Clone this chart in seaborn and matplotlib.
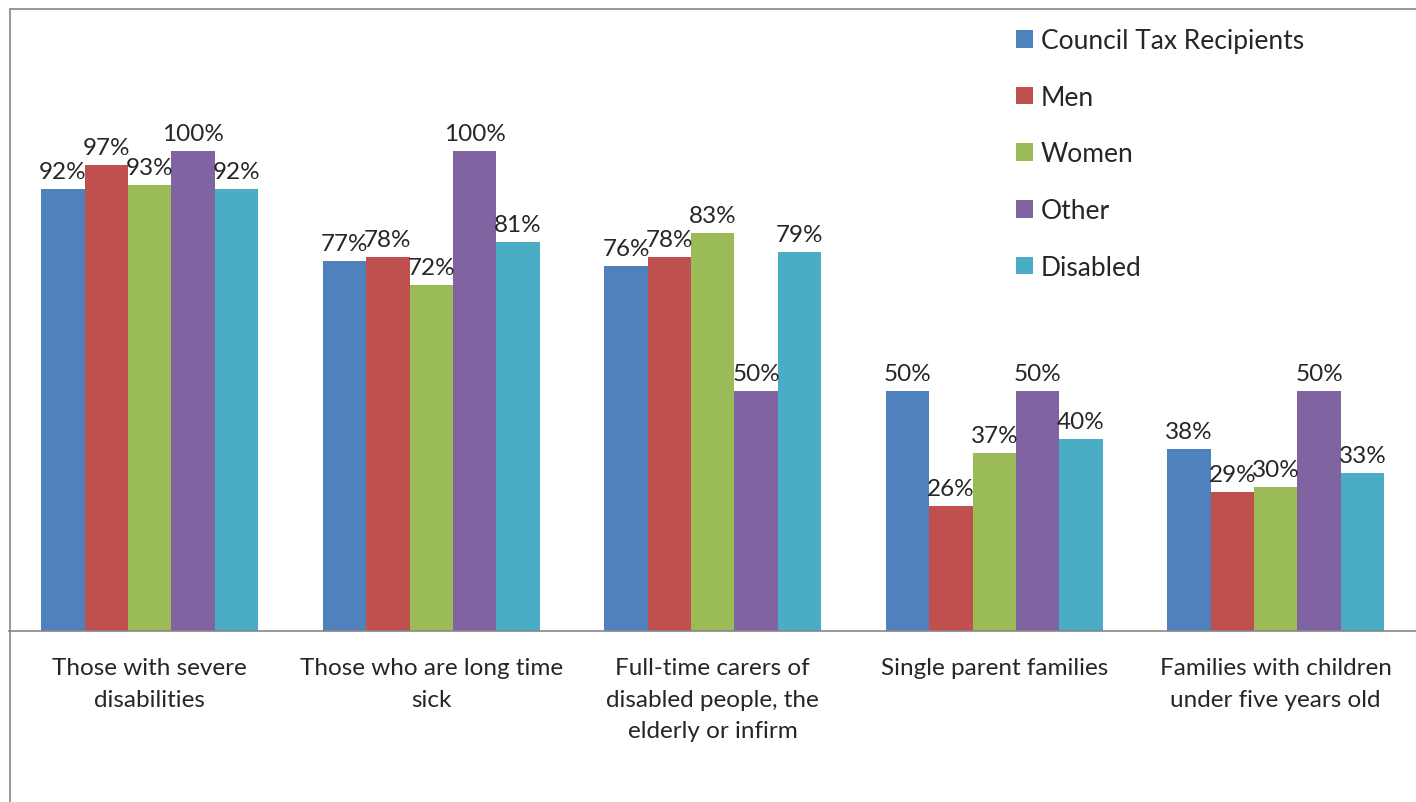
import pandas as pd
import matplotlib.pyplot as plt
import seaborn as sns
from matplotlib.lines import Line2D
from matplotlib.patches import Patch

# Chart data (percent)
categories = [
    "Those with severe\ndisabilities",
    "Those who are long time\nsick",
    "Full-time carers of\ndisabled people, the\nelderly or infirm",
    "Single parent families",
    "Families with children\nunder five years old",
]
groups = ["Council Tax Recipients", "Men", "Women", "Other", "Disabled"]
council_tax = [92, 77, 76, 50, 38]
men = [97, 78, 78, 26, 29]
women = [93, 72, 83, 37, 30]
other = [100, 100, 50, 50, 50]
disabled = [92, 81, 79, 40, 33]
colors = ["#4F81BD", "#C0504D", "#9BBB59", "#8064A2", "#4BACC6"]

series = [council_tax, men, women, other, disabled]
rows = []
for grp, vals in zip(groups, series):
    for cat, v in zip(categories, vals):
        rows.append({"category": cat, "group": grp, "value": v})
df = pd.DataFrame(rows)

sns.set_style("white")
plt.rcParams["font.family"] = ["Lato", "DejaVu Sans"]
FS_LABEL = 17.5  # data labels
FS_LEG = 19      # legend
FS_TICK = 17.5   # category labels

W, H = 1416, 803
fig = plt.figure(figsize=(W / 100, H / 100), dpi=100)
ax = fig.add_axes([9 / W, 171 / H, 1407.5 / W, 576 / H])

sns.barplot(data=df, x="category", y="value", hue="group", order=categories,
            hue_order=groups, palette=colors, width=0.77, saturation=1,
            linewidth=0, legend=False, ax=ax)

# data labels on top of each bar
for cont, vals in zip(ax.containers, series):
    ax.bar_label(cont, labels=[f"{v}%" for v in vals], padding=5, fontsize=FS_LABEL)

ax.set_xlim(-0.5, len(categories) - 0.5)
ax.set_ylim(0, 120)
ax.set_xlabel("")
ax.set_ylabel("")
ax.set_yticks([])
for side in ["left", "right", "top"]:
    ax.spines[side].set_visible(False)
ax.spines["bottom"].set_color("#868686")
ax.spines["bottom"].set_linewidth(1.2)

# category labels centred, boundary tick marks between groups
ax.tick_params(axis="x", which="major", length=0, pad=19, labelsize=FS_TICK)
for lbl in ax.get_xticklabels():
    lbl.set_multialignment("center")
    lbl.set_linespacing(1.62)
ax.set_xticks([i + 0.5 for i in range(len(categories) - 1)], minor=True)
ax.tick_params(axis="x", which="minor", length=5, width=1.2, color="#868686",
               direction="out")

# legend without frame, top right
handles = [Patch(facecolor=c, edgecolor="none") for c in colors]
fig.legend(handles, groups, loc="upper left", bbox_to_anchor=(1016 / W, 1 - 29 / H),
           frameon=False, fontsize=FS_LEG, handlelength=0.65, handleheight=0.65,
           handletextpad=0.3, labelspacing=1.2, borderpad=0, borderaxespad=0)

# chart area border (left and top edges visible)
fig.add_artist(Line2D([9.5 / W, 9.5 / W], [0, 1 - 10 / H], color="#868686", lw=1.2))
fig.add_artist(Line2D([9.5 / W, 1], [1 - 10 / H, 1 - 10 / H], color="#868686", lw=1.2))

plt.savefig("out.png", dpi=100)
plt.close()
